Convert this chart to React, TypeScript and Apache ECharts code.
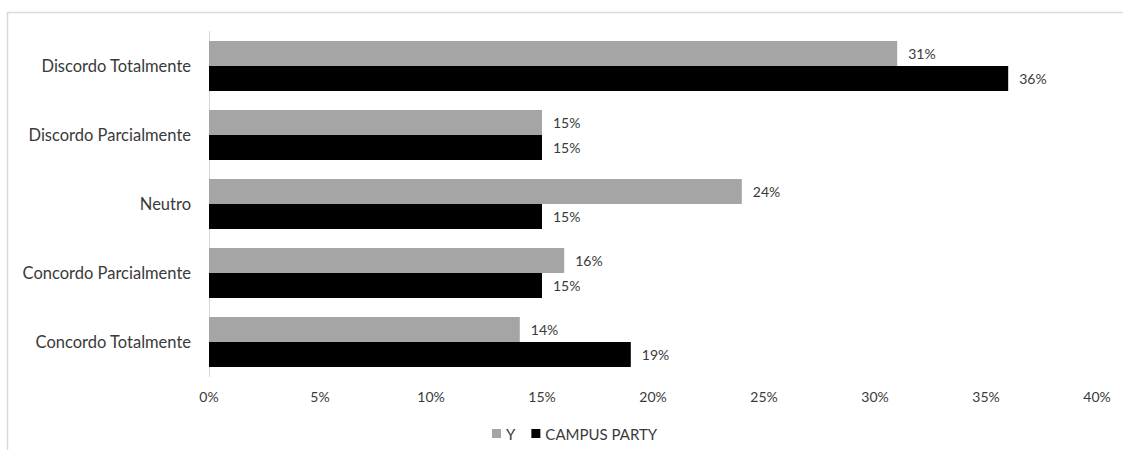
import React, { useEffect, useRef } from "react";
import * as echarts from "echarts";

const categories = [
  "Discordo Totalmente",
  "Discordo Parcialmente",
  "Neutro",
  "Concordo Parcialmente",
  "Concordo Totalmente",
];
const seriesY = [31, 15, 24, 16, 14];
const seriesCampus = [36, 15, 15, 15, 19];
const seriesNames = ["Y", "CAMPUS PARTY"];
const FONT = "Lato, 'Open Sans', sans-serif";

export default function App() {
  const ref = useRef<HTMLDivElement>(null);
  useEffect(() => {
    if (!ref.current) return;
    const chart = echarts.init(ref.current, null, { renderer: "svg" });
    const label = {
      show: true,
      position: "right" as const,
      distance: 11,
      formatter: (p: any) => p.value + "%",
      color: "#3a3a3a",
      fontSize: 14,
      fontFamily: FONT,
    };
    chart.setOption({
      animation: false,
      textStyle: { fontFamily: FONT },
      graphic: [
        {
          type: "rect",
          shape: { x: 7.5, y: 12.5, width: 1200, height: 500 },
          style: { fill: "none", stroke: "#d9d9d9", lineWidth: 1.5 },
          silent: true,
        },
      ],
      grid: { left: 209, right: 26, top: 31.5, height: 345, containLabel: false },
      legend: {
        data: seriesNames,
        left: 487,
        top: 421,
        itemWidth: 9,
        itemHeight: 9,
        itemGap: 16,
        icon: "rect",
        textStyle: { color: "#3a3a3a", fontSize: 15, fontFamily: FONT },
      },
      xAxis: {
        type: "value",
        min: 0,
        max: 40,
        interval: 5,
        splitLine: { show: false },
        axisLine: { show: false },
        axisTick: { show: false },
        axisLabel: {
          formatter: (v: number) => v + "%",
          color: "#3a3a3a",
          fontSize: 14,
          margin: 13,
          fontFamily: FONT,
        },
      },
      yAxis: {
        type: "category",
        data: categories,
        inverse: true,
        axisLine: { show: true, lineStyle: { color: "#d9d9d9", width: 1 } },
        axisTick: { show: false },
        axisLabel: { color: "#3a3a3a", fontSize: 16.5, margin: 18, fontFamily: FONT },
      },
      series: [
        {
          name: seriesNames[0],
          type: "bar",
          data: seriesY,
          itemStyle: { color: "#a5a5a5" },
          barGap: "0%",
          barCategoryGap: "27.5%",
          label,
        },
        {
          name: seriesNames[1],
          type: "bar",
          data: seriesCampus,
          itemStyle: { color: "#000000" },
          barGap: "0%",
          barCategoryGap: "27.5%",
          label,
        },
      ],
    });
    return () => chart.dispose();
  }, []);
  return (
    <div
      ref={ref}
      style={{ position: "fixed", left: 0, top: 0, width: 1123, height: 450, background: "#fff" }}
    />
  );
}
